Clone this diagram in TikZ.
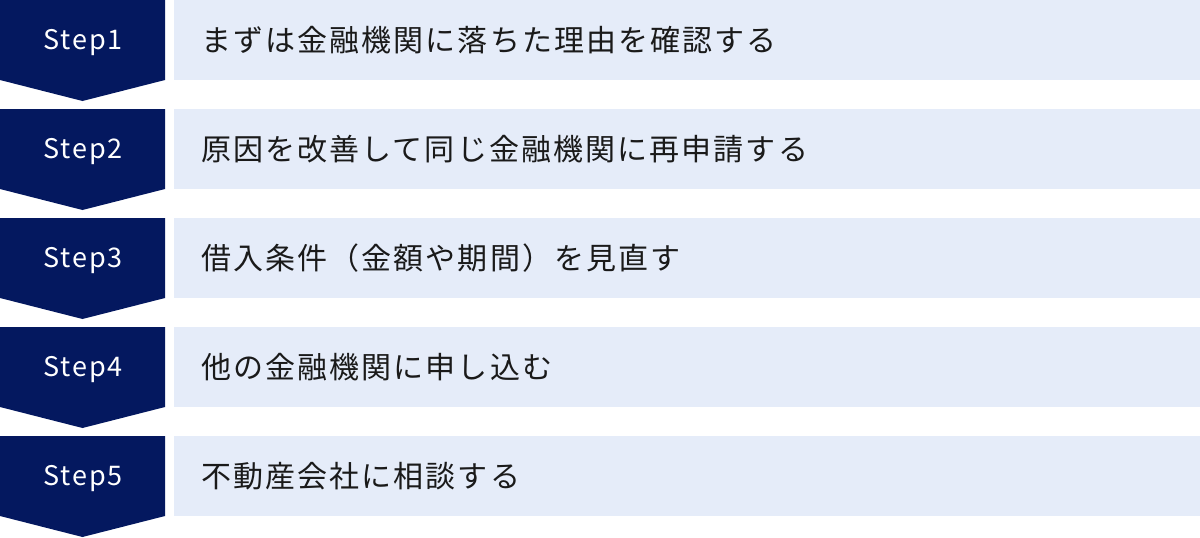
\documentclass[tikz,border=0pt]{standalone}
\usepackage{fontspec}
\newfontfamily\jpfont[LetterSpace=7]{Noto Sans CJK JP}
\newfontfamily\stepfont[LetterSpace=7]{Noto Sans CJK JP}
\definecolor{navy}{HTML}{04185F}
\definecolor{lightbox}{HTML}{E5ECF9}
\definecolor{txt}{HTML}{1A1A1A}
\tikzset{
  stepshape/.style={fill=navy, draw=none},
  steplabel/.style={text=white, font=\stepfont\fontsize{27}{32}\selectfont, inner sep=0pt},
  itembox/.style={fill=lightbox, draw=none, minimum width=1026pt, minimum height=80pt, inner sep=0pt, anchor=north west},
  itemtext/.style={text=txt, font=\jpfont\fontsize{30}{36}\selectfont, inner sep=0pt, anchor=west}
}
\begin{document}
\begin{tikzpicture}[x=1pt,y=-1pt]
\useasboundingbox (0,0) rectangle (1200,538);
\foreach \i/\t in {1/まずは金融機関に落ちた理由を確認する,
                   2/原因を改善して同じ金融機関に再申請する,
                   3/借入条件（金額や期間）を見直す,
                   4/他の金融機関に申し込む,
                   5/不動産会社に相談する}{
  \pgfmathsetmacro{\yy}{(\i-1)*109}
  \fill[stepshape] (0,\yy) -- (165,\yy) -- (165,\yy+80) -- (82.5,\yy+101) -- (0,\yy+80) -- cycle;
  \node[steplabel] (s\i) at (83,\yy+42.5) {Step\i};
  \node[itembox] (b\i) at (174,\yy) {};
  \node[itemtext] (t\i) at (201,\yy+40) {\t};
}
\end{tikzpicture}
\end{document}
